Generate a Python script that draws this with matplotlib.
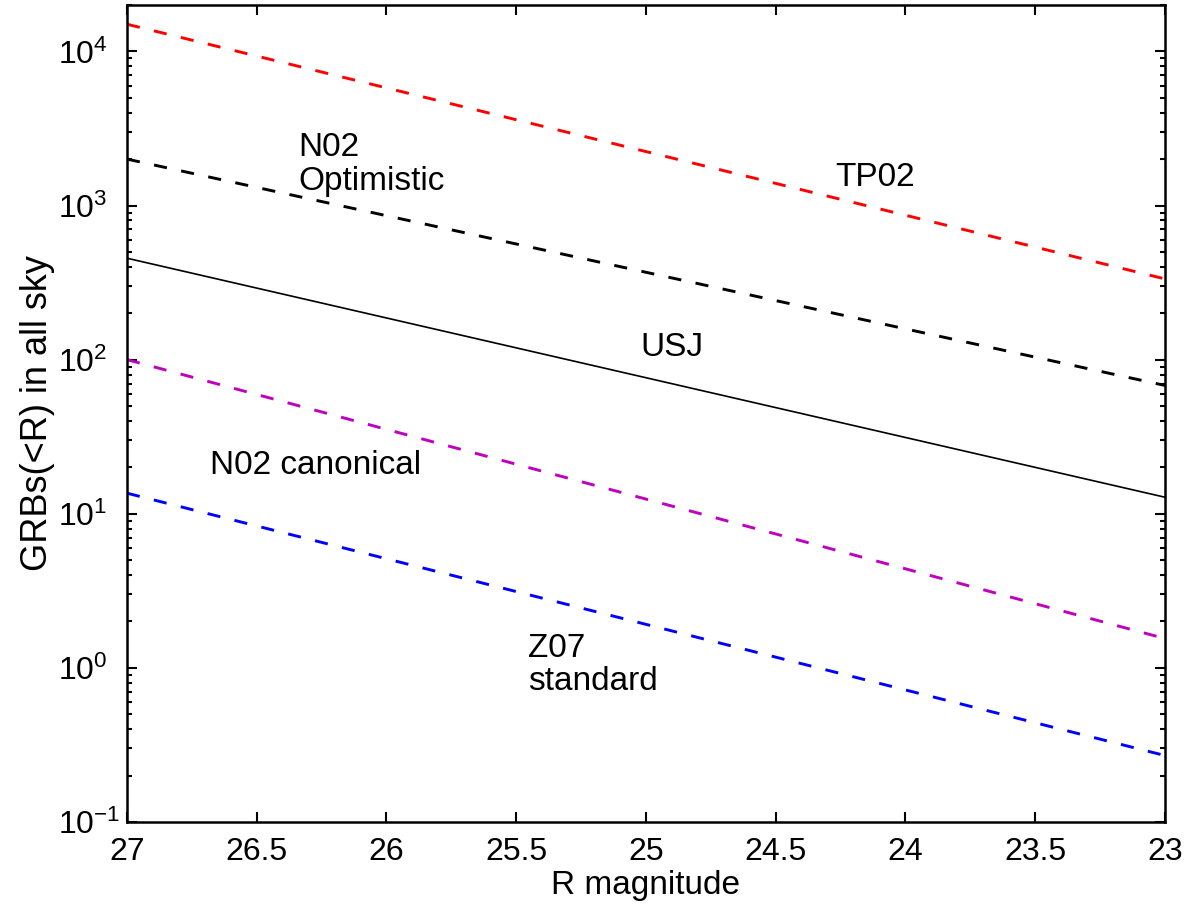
import numpy as np
import matplotlib.pyplot as plt

plt.rcParams['font.family'] = ['Liberation Sans', 'DejaVu Sans']
plt.rcParams['mathtext.fontset'] = 'custom'
plt.rcParams['mathtext.rm'] = 'Liberation Sans'
plt.rcParams['mathtext.default'] = 'regular'

# R magnitude at the two ends of each (straight on log scale) line
mag = [27, 23]
tp02 = [1.5e4, 334]
n02_opt = [2000, 68]
usj = [455, 12.8]
n02_can = [100, 1.55]
z07 = [13.6, 0.27]

# labels: (text, x, y of last line baseline)
labels = [("N02\nOptimistic", 26.34, 1265),
          ("TP02", 24.27, 1343),
          ("USJ", 25.02, 105.7),
          ("N02 canonical", 26.68, 18.0),
          ("Z07\nstandard", 25.456, 0.716)]

yticks = [0.1, 1, 10, 100, 1000, 10000]
ytick_labels = ['$10^{-1}$', '$10^{0}$', '$10^{1}$', '$10^{2}$', '$10^{3}$', '$10^{4}$']
xticks = [27, 26.5, 26, 25.5, 25, 24.5, 24, 23.5, 23]
xtick_labels = ['27', '26.5', '26', '25.5', '25', '24.5', '24', '23.5', '23']

fig = plt.figure(figsize=(11.88, 9.05), dpi=100)
ax = fig.add_axes([0.1069, 0.0917, 0.9806 - 0.1069, 0.9945 - 0.0917])

dash = (4.5, 5)
ax.plot(mag, tp02, color='r', lw=2.1, dashes=dash)
ax.plot(mag, n02_opt, color='k', lw=2.1, dashes=dash)
ax.plot(mag, usj, color='k', lw=1.2)
ax.plot(mag, n02_can, color='m', lw=2.1, dashes=dash)
ax.plot(mag, z07, color='b', lw=2.1, dashes=dash)

for txt, x, y in labels:
    ax.text(x, y, txt, fontsize=24, ha='left', va='baseline', linespacing=1.1)

ax.set_yscale('log')
ax.set_xlim(27, 23)
ax.set_ylim(0.1, 2e4)
ax.set_xticks(xticks)
ax.set_xticklabels(xtick_labels)
ax.set_yticks(yticks)
ax.set_yticklabels(ytick_labels, ha='left')

for s in ax.spines.values():
    s.set_linewidth(1.8)
ax.tick_params(which='both', direction='in', top=True, right=True, width=1.5)
ax.tick_params(which='major', length=7.2, labelsize=23)
ax.tick_params(axis='x', which='major', pad=11)
ax.tick_params(axis='y', which='major', pad=49.5)
ax.tick_params(which='minor', length=3.6)

ax.set_xlabel('R magnitude', fontsize=24, labelpad=2)
ax.set_ylabel('GRBs(<R) in all sky', fontsize=26, labelpad=2)

fig.savefig('out.png', dpi=100)
